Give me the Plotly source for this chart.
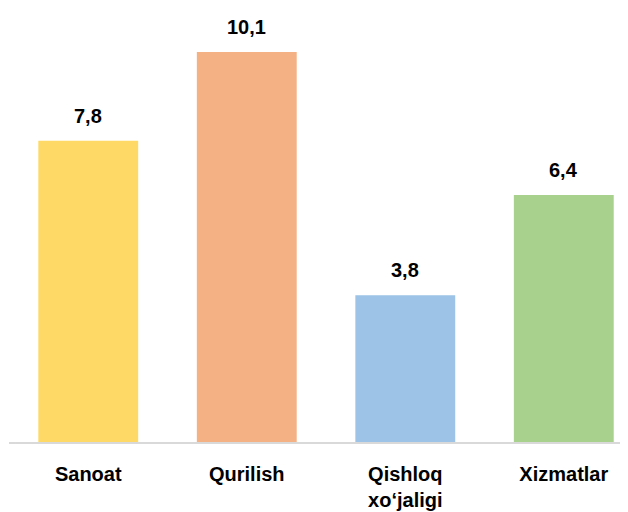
import plotly.graph_objects as go

categories = ["Sanoat", "Qurilish", "Qishloq<br>xo‘jaligi", "Xizmatlar"]
values = [7.8, 10.1, 3.8, 6.4]
colors = ["#FFD966", "#F4B183", "#9DC3E6", "#A9D18E"]

labels = [f"{v:.1f}".replace(".", ",") for v in values]

fig = go.Figure(go.Bar(
    x=categories, y=values, marker=dict(color=colors, line=dict(width=0)),
    width=0.63, hoverinfo="skip",
))

for c, v, t in zip(categories, values, labels):
    fig.add_annotation(x=c, y=v, text=f"<b>{t}</b>", showarrow=False,
                       yanchor="bottom", yshift=12,
                       font=dict(family="Liberation Sans", size=20, color="#000000"))

fig.update_layout(
    width=628, height=512,
    margin=dict(l=1, r=8, t=2, b=78, autoexpand=False),
    paper_bgcolor="white", plot_bgcolor="white",
    showlegend=False,
    separators=",.",
    xaxis=dict(
        range=[-0.5, 3.405], showgrid=False, zeroline=False,
        showline=True, linecolor="#D9D9D9", linewidth=2,
        ticks="", ticklabelstandoff=13, automargin=False,
        tickfont=dict(family="Liberation Sans", size=20, color="#000000", weight="bold"),
    ),
    yaxis=dict(range=[0, 11.19], visible=False, showgrid=False, zeroline=False),
)

fig.write_html("out.html")
